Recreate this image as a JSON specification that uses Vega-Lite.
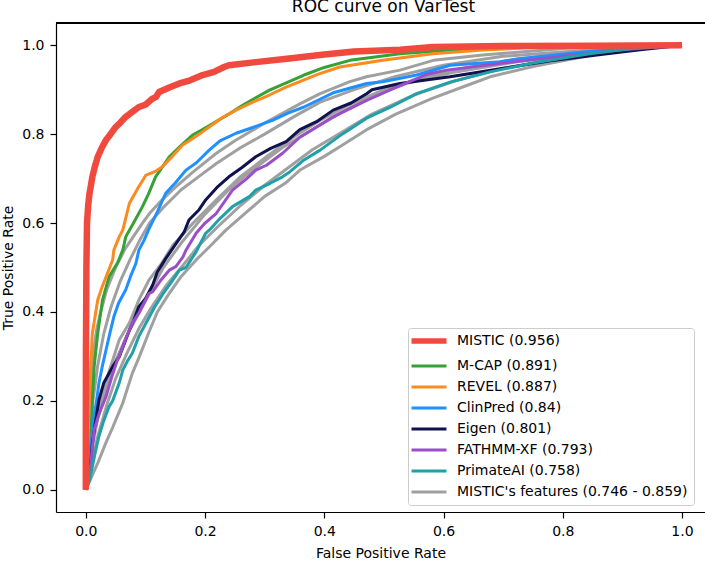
{
  "$schema": "https://vega.github.io/schema/vega-lite/v6.json",
  "autosize": {"type": "none"},
  "padding": {"left": 56, "top": 23, "right": 0, "bottom": 49},
  "width": 649,
  "height": 489,
  "background": "white",
  "title": {"text": "ROC curve on VarTest", "fontSize": 17, "fontWeight": "normal", "font": "DejaVu Sans", "color": "#000", "anchor": "middle", "frame": "group", "baseline": "alphabetic", "offset": -7, "dx": 3},
  "config": {
    "view": {"stroke": null},
    "axis": {"grid": false, "domainColor": "#000", "domainWidth": 1.2, "tickColor": "#000", "tickWidth": 1.2, "tickSize": 6, "labelFont": "DejaVu Sans", "labelFontSize": 14, "labelColor": "#000", "titleFont": "DejaVu Sans", "titleFontSize": 14, "titleFontWeight": "normal", "titleColor": "#000", "labelPadding": 6}
  },
  "data": {"values": [
    {"m":"MISTIC (0.956)","c":"mistic","x":0,"y":0},{"m":"MISTIC (0.956)","c":"mistic","x":0.0002,"y":0.3},{"m":"MISTIC (0.956)","c":"mistic","x":0.001,"y":0.5},{"m":"MISTIC (0.956)","c":"mistic","x":0.002,"y":0.6},{"m":"MISTIC (0.956)","c":"mistic","x":0.004,"y":0.64},{"m":"MISTIC (0.956)","c":"mistic","x":0.006,"y":0.665},{"m":"MISTIC (0.956)","c":"mistic","x":0.008,"y":0.68},{"m":"MISTIC (0.956)","c":"mistic","x":0.011,"y":0.704},{"m":"MISTIC (0.956)","c":"mistic","x":0.015,"y":0.726},{"m":"MISTIC (0.956)","c":"mistic","x":0.02,"y":0.749},{"m":"MISTIC (0.956)","c":"mistic","x":0.027,"y":0.77},{"m":"MISTIC (0.956)","c":"mistic","x":0.034,"y":0.787},{"m":"MISTIC (0.956)","c":"mistic","x":0.042,"y":0.801},{"m":"MISTIC (0.956)","c":"mistic","x":0.05,"y":0.816},{"m":"MISTIC (0.956)","c":"mistic","x":0.058,"y":0.826},{"m":"MISTIC (0.956)","c":"mistic","x":0.067,"y":0.839},{"m":"MISTIC (0.956)","c":"mistic","x":0.078,"y":0.85},{"m":"MISTIC (0.956)","c":"mistic","x":0.089,"y":0.861},{"m":"MISTIC (0.956)","c":"mistic","x":0.1,"y":0.866},{"m":"MISTIC (0.956)","c":"mistic","x":0.112,"y":0.88},{"m":"MISTIC (0.956)","c":"mistic","x":0.118,"y":0.884},{"m":"MISTIC (0.956)","c":"mistic","x":0.123,"y":0.895},{"m":"MISTIC (0.956)","c":"mistic","x":0.14,"y":0.905},{"m":"MISTIC (0.956)","c":"mistic","x":0.157,"y":0.914},{"m":"MISTIC (0.956)","c":"mistic","x":0.175,"y":0.921},{"m":"MISTIC (0.956)","c":"mistic","x":0.196,"y":0.933},{"m":"MISTIC (0.956)","c":"mistic","x":0.215,"y":0.94},{"m":"MISTIC (0.956)","c":"mistic","x":0.232,"y":0.951},{"m":"MISTIC (0.956)","c":"mistic","x":0.24,"y":0.955},{"m":"MISTIC (0.956)","c":"mistic","x":0.285,"y":0.962},{"m":"MISTIC (0.956)","c":"mistic","x":0.341,"y":0.97},{"m":"MISTIC (0.956)","c":"mistic","x":0.4,"y":0.979},{"m":"MISTIC (0.956)","c":"mistic","x":0.45,"y":0.986},{"m":"MISTIC (0.956)","c":"mistic","x":0.527,"y":0.99},{"m":"MISTIC (0.956)","c":"mistic","x":0.582,"y":0.996},{"m":"MISTIC (0.956)","c":"mistic","x":0.7,"y":0.998},{"m":"MISTIC (0.956)","c":"mistic","x":0.85,"y":0.999},{"m":"MISTIC (0.956)","c":"mistic","x":1,"y":1},

    {"m":"M-CAP (0.891)","c":"mcap","x":0,"y":0},{"m":"M-CAP (0.891)","c":"mcap","x":0.004,"y":0.05},{"m":"M-CAP (0.891)","c":"mcap","x":0.008,"y":0.09},{"m":"M-CAP (0.891)","c":"mcap","x":0.011,"y":0.202},{"m":"M-CAP (0.891)","c":"mcap","x":0.014,"y":0.277},{"m":"M-CAP (0.891)","c":"mcap","x":0.02,"y":0.352},{"m":"M-CAP (0.891)","c":"mcap","x":0.028,"y":0.427},{"m":"M-CAP (0.891)","c":"mcap","x":0.039,"y":0.479},{"m":"M-CAP (0.891)","c":"mcap","x":0.053,"y":0.51},{"m":"M-CAP (0.891)","c":"mcap","x":0.062,"y":0.539},{"m":"M-CAP (0.891)","c":"mcap","x":0.067,"y":0.569},{"m":"M-CAP (0.891)","c":"mcap","x":0.08,"y":0.6},{"m":"M-CAP (0.891)","c":"mcap","x":0.095,"y":0.637},{"m":"M-CAP (0.891)","c":"mcap","x":0.105,"y":0.665},{"m":"M-CAP (0.891)","c":"mcap","x":0.117,"y":0.704},{"m":"M-CAP (0.891)","c":"mcap","x":0.128,"y":0.725},{"m":"M-CAP (0.891)","c":"mcap","x":0.14,"y":0.749},{"m":"M-CAP (0.891)","c":"mcap","x":0.16,"y":0.775},{"m":"M-CAP (0.891)","c":"mcap","x":0.179,"y":0.798},{"m":"M-CAP (0.891)","c":"mcap","x":0.195,"y":0.81},{"m":"M-CAP (0.891)","c":"mcap","x":0.213,"y":0.824},{"m":"M-CAP (0.891)","c":"mcap","x":0.24,"y":0.845},{"m":"M-CAP (0.891)","c":"mcap","x":0.263,"y":0.865},{"m":"M-CAP (0.891)","c":"mcap","x":0.285,"y":0.882},{"m":"M-CAP (0.891)","c":"mcap","x":0.308,"y":0.899},{"m":"M-CAP (0.891)","c":"mcap","x":0.341,"y":0.918},{"m":"M-CAP (0.891)","c":"mcap","x":0.366,"y":0.933},{"m":"M-CAP (0.891)","c":"mcap","x":0.4,"y":0.95},{"m":"M-CAP (0.891)","c":"mcap","x":0.443,"y":0.966},{"m":"M-CAP (0.891)","c":"mcap","x":0.527,"y":0.981},{"m":"M-CAP (0.891)","c":"mcap","x":0.611,"y":0.989},{"m":"M-CAP (0.891)","c":"mcap","x":0.7,"y":0.995},{"m":"M-CAP (0.891)","c":"mcap","x":0.85,"y":0.998},{"m":"M-CAP (0.891)","c":"mcap","x":1,"y":1},

    {"m":"REVEL (0.887)","c":"revel","x":0,"y":0},{"m":"REVEL (0.887)","c":"revel","x":0.003,"y":0.1},{"m":"REVEL (0.887)","c":"revel","x":0.005,"y":0.18},{"m":"REVEL (0.887)","c":"revel","x":0.007,"y":0.24},{"m":"REVEL (0.887)","c":"revel","x":0.011,"y":0.352},{"m":"REVEL (0.887)","c":"revel","x":0.02,"y":0.427},{"m":"REVEL (0.887)","c":"revel","x":0.027,"y":0.455},{"m":"REVEL (0.887)","c":"revel","x":0.034,"y":0.479},{"m":"REVEL (0.887)","c":"revel","x":0.045,"y":0.517},{"m":"REVEL (0.887)","c":"revel","x":0.047,"y":0.539},{"m":"REVEL (0.887)","c":"revel","x":0.056,"y":0.569},{"m":"REVEL (0.887)","c":"revel","x":0.062,"y":0.584},{"m":"REVEL (0.887)","c":"revel","x":0.073,"y":0.644},{"m":"REVEL (0.887)","c":"revel","x":0.088,"y":0.68},{"m":"REVEL (0.887)","c":"revel","x":0.101,"y":0.708},{"m":"REVEL (0.887)","c":"revel","x":0.115,"y":0.715},{"m":"REVEL (0.887)","c":"revel","x":0.129,"y":0.727},{"m":"REVEL (0.887)","c":"revel","x":0.145,"y":0.75},{"m":"REVEL (0.887)","c":"revel","x":0.162,"y":0.775},{"m":"REVEL (0.887)","c":"revel","x":0.185,"y":0.795},{"m":"REVEL (0.887)","c":"revel","x":0.207,"y":0.816},{"m":"REVEL (0.887)","c":"revel","x":0.23,"y":0.838},{"m":"REVEL (0.887)","c":"revel","x":0.252,"y":0.854},{"m":"REVEL (0.887)","c":"revel","x":0.28,"y":0.872},{"m":"REVEL (0.887)","c":"revel","x":0.308,"y":0.888},{"m":"REVEL (0.887)","c":"revel","x":0.335,"y":0.905},{"m":"REVEL (0.887)","c":"revel","x":0.359,"y":0.918},{"m":"REVEL (0.887)","c":"revel","x":0.39,"y":0.935},{"m":"REVEL (0.887)","c":"revel","x":0.426,"y":0.951},{"m":"REVEL (0.887)","c":"revel","x":0.498,"y":0.966},{"m":"REVEL (0.887)","c":"revel","x":0.582,"y":0.981},{"m":"REVEL (0.887)","c":"revel","x":0.666,"y":0.989},{"m":"REVEL (0.887)","c":"revel","x":0.75,"y":0.995},{"m":"REVEL (0.887)","c":"revel","x":0.88,"y":0.999},{"m":"REVEL (0.887)","c":"revel","x":1,"y":1},

    {"m":"ClinPred (0.84)","c":"clin","x":0,"y":0},{"m":"ClinPred (0.84)","c":"clin","x":0.004,"y":0.04},{"m":"ClinPred (0.84)","c":"clin","x":0.008,"y":0.09},{"m":"ClinPred (0.84)","c":"clin","x":0.011,"y":0.13},{"m":"ClinPred (0.84)","c":"clin","x":0.014,"y":0.165},{"m":"ClinPred (0.84)","c":"clin","x":0.018,"y":0.2},{"m":"ClinPred (0.84)","c":"clin","x":0.022,"y":0.24},{"m":"ClinPred (0.84)","c":"clin","x":0.028,"y":0.28},{"m":"ClinPred (0.84)","c":"clin","x":0.034,"y":0.315},{"m":"ClinPred (0.84)","c":"clin","x":0.04,"y":0.35},{"m":"ClinPred (0.84)","c":"clin","x":0.047,"y":0.389},{"m":"ClinPred (0.84)","c":"clin","x":0.055,"y":0.42},{"m":"ClinPred (0.84)","c":"clin","x":0.067,"y":0.45},{"m":"ClinPred (0.84)","c":"clin","x":0.075,"y":0.48},{"m":"ClinPred (0.84)","c":"clin","x":0.084,"y":0.509},{"m":"ClinPred (0.84)","c":"clin","x":0.089,"y":0.539},{"m":"ClinPred (0.84)","c":"clin","x":0.098,"y":0.562},{"m":"ClinPred (0.84)","c":"clin","x":0.107,"y":0.59},{"m":"ClinPred (0.84)","c":"clin","x":0.12,"y":0.625},{"m":"ClinPred (0.84)","c":"clin","x":0.134,"y":0.667},{"m":"ClinPred (0.84)","c":"clin","x":0.15,"y":0.69},{"m":"ClinPred (0.84)","c":"clin","x":0.168,"y":0.719},{"m":"ClinPred (0.84)","c":"clin","x":0.185,"y":0.735},{"m":"ClinPred (0.84)","c":"clin","x":0.207,"y":0.764},{"m":"ClinPred (0.84)","c":"clin","x":0.225,"y":0.785},{"m":"ClinPred (0.84)","c":"clin","x":0.252,"y":0.802},{"m":"ClinPred (0.84)","c":"clin","x":0.28,"y":0.815},{"m":"ClinPred (0.84)","c":"clin","x":0.313,"y":0.831},{"m":"ClinPred (0.84)","c":"clin","x":0.34,"y":0.848},{"m":"ClinPred (0.84)","c":"clin","x":0.366,"y":0.861},{"m":"ClinPred (0.84)","c":"clin","x":0.415,"y":0.893},{"m":"ClinPred (0.84)","c":"clin","x":0.471,"y":0.914},{"m":"ClinPred (0.84)","c":"clin","x":0.498,"y":0.918},{"m":"ClinPred (0.84)","c":"clin","x":0.555,"y":0.933},{"m":"ClinPred (0.84)","c":"clin","x":0.611,"y":0.955},{"m":"ClinPred (0.84)","c":"clin","x":0.695,"y":0.963},{"m":"ClinPred (0.84)","c":"clin","x":0.723,"y":0.969},{"m":"ClinPred (0.84)","c":"clin","x":0.834,"y":0.985},{"m":"ClinPred (0.84)","c":"clin","x":0.92,"y":0.995},{"m":"ClinPred (0.84)","c":"clin","x":1,"y":1},

    {"m":"Eigen (0.801)","c":"eigen","x":0,"y":0},{"m":"Eigen (0.801)","c":"eigen","x":0.006,"y":0.03},{"m":"Eigen (0.801)","c":"eigen","x":0.009,"y":0.07},{"m":"Eigen (0.801)","c":"eigen","x":0.011,"y":0.105},{"m":"Eigen (0.801)","c":"eigen","x":0.016,"y":0.15},{"m":"Eigen (0.801)","c":"eigen","x":0.022,"y":0.202},{"m":"Eigen (0.801)","c":"eigen","x":0.03,"y":0.24},{"m":"Eigen (0.801)","c":"eigen","x":0.039,"y":0.262},{"m":"Eigen (0.801)","c":"eigen","x":0.045,"y":0.277},{"m":"Eigen (0.801)","c":"eigen","x":0.056,"y":0.299},{"m":"Eigen (0.801)","c":"eigen","x":0.065,"y":0.33},{"m":"Eigen (0.801)","c":"eigen","x":0.073,"y":0.359},{"m":"Eigen (0.801)","c":"eigen","x":0.08,"y":0.38},{"m":"Eigen (0.801)","c":"eigen","x":0.089,"y":0.412},{"m":"Eigen (0.801)","c":"eigen","x":0.1,"y":0.43},{"m":"Eigen (0.801)","c":"eigen","x":0.112,"y":0.46},{"m":"Eigen (0.801)","c":"eigen","x":0.12,"y":0.49},{"m":"Eigen (0.801)","c":"eigen","x":0.134,"y":0.52},{"m":"Eigen (0.801)","c":"eigen","x":0.151,"y":0.553},{"m":"Eigen (0.801)","c":"eigen","x":0.165,"y":0.58},{"m":"Eigen (0.801)","c":"eigen","x":0.173,"y":0.607},{"m":"Eigen (0.801)","c":"eigen","x":0.19,"y":0.63},{"m":"Eigen (0.801)","c":"eigen","x":0.201,"y":0.652},{"m":"Eigen (0.801)","c":"eigen","x":0.22,"y":0.68},{"m":"Eigen (0.801)","c":"eigen","x":0.24,"y":0.704},{"m":"Eigen (0.801)","c":"eigen","x":0.262,"y":0.725},{"m":"Eigen (0.801)","c":"eigen","x":0.285,"y":0.749},{"m":"Eigen (0.801)","c":"eigen","x":0.31,"y":0.768},{"m":"Eigen (0.801)","c":"eigen","x":0.336,"y":0.783},{"m":"Eigen (0.801)","c":"eigen","x":0.359,"y":0.81},{"m":"Eigen (0.801)","c":"eigen","x":0.387,"y":0.828},{"m":"Eigen (0.801)","c":"eigen","x":0.415,"y":0.854},{"m":"Eigen (0.801)","c":"eigen","x":0.445,"y":0.87},{"m":"Eigen (0.801)","c":"eigen","x":0.471,"y":0.891},{"m":"Eigen (0.801)","c":"eigen","x":0.48,"y":0.9},{"m":"Eigen (0.801)","c":"eigen","x":0.527,"y":0.914},{"m":"Eigen (0.801)","c":"eigen","x":0.611,"y":0.929},{"m":"Eigen (0.801)","c":"eigen","x":0.695,"y":0.947},{"m":"Eigen (0.801)","c":"eigen","x":0.78,"y":0.965},{"m":"Eigen (0.801)","c":"eigen","x":0.857,"y":0.978},{"m":"Eigen (0.801)","c":"eigen","x":0.93,"y":0.99},{"m":"Eigen (0.801)","c":"eigen","x":1,"y":1},

    {"m":"FATHMM-XF (0.793)","c":"fathmm","x":0,"y":0},{"m":"FATHMM-XF (0.793)","c":"fathmm","x":0.006,"y":0.03},{"m":"FATHMM-XF (0.793)","c":"fathmm","x":0.01,"y":0.08},{"m":"FATHMM-XF (0.793)","c":"fathmm","x":0.014,"y":0.135},{"m":"FATHMM-XF (0.793)","c":"fathmm","x":0.022,"y":0.17},{"m":"FATHMM-XF (0.793)","c":"fathmm","x":0.034,"y":0.21},{"m":"FATHMM-XF (0.793)","c":"fathmm","x":0.045,"y":0.26},{"m":"FATHMM-XF (0.793)","c":"fathmm","x":0.053,"y":0.292},{"m":"FATHMM-XF (0.793)","c":"fathmm","x":0.056,"y":0.3},{"m":"FATHMM-XF (0.793)","c":"fathmm","x":0.067,"y":0.34},{"m":"FATHMM-XF (0.793)","c":"fathmm","x":0.078,"y":0.375},{"m":"FATHMM-XF (0.793)","c":"fathmm","x":0.09,"y":0.4},{"m":"FATHMM-XF (0.793)","c":"fathmm","x":0.106,"y":0.442},{"m":"FATHMM-XF (0.793)","c":"fathmm","x":0.112,"y":0.445},{"m":"FATHMM-XF (0.793)","c":"fathmm","x":0.125,"y":0.47},{"m":"FATHMM-XF (0.793)","c":"fathmm","x":0.14,"y":0.494},{"m":"FATHMM-XF (0.793)","c":"fathmm","x":0.151,"y":0.502},{"m":"FATHMM-XF (0.793)","c":"fathmm","x":0.163,"y":0.524},{"m":"FATHMM-XF (0.793)","c":"fathmm","x":0.168,"y":0.539},{"m":"FATHMM-XF (0.793)","c":"fathmm","x":0.185,"y":0.577},{"m":"FATHMM-XF (0.793)","c":"fathmm","x":0.2,"y":0.6},{"m":"FATHMM-XF (0.793)","c":"fathmm","x":0.219,"y":0.622},{"m":"FATHMM-XF (0.793)","c":"fathmm","x":0.246,"y":0.674},{"m":"FATHMM-XF (0.793)","c":"fathmm","x":0.27,"y":0.7},{"m":"FATHMM-XF (0.793)","c":"fathmm","x":0.285,"y":0.719},{"m":"FATHMM-XF (0.793)","c":"fathmm","x":0.303,"y":0.73},{"m":"FATHMM-XF (0.793)","c":"fathmm","x":0.33,"y":0.757},{"m":"FATHMM-XF (0.793)","c":"fathmm","x":0.359,"y":0.793},{"m":"FATHMM-XF (0.793)","c":"fathmm","x":0.387,"y":0.816},{"m":"FATHMM-XF (0.793)","c":"fathmm","x":0.415,"y":0.839},{"m":"FATHMM-XF (0.793)","c":"fathmm","x":0.471,"y":0.876},{"m":"FATHMM-XF (0.793)","c":"fathmm","x":0.52,"y":0.905},{"m":"FATHMM-XF (0.793)","c":"fathmm","x":0.571,"y":0.934},{"m":"FATHMM-XF (0.793)","c":"fathmm","x":0.605,"y":0.944},{"m":"FATHMM-XF (0.793)","c":"fathmm","x":0.7,"y":0.96},{"m":"FATHMM-XF (0.793)","c":"fathmm","x":0.8,"y":0.975},{"m":"FATHMM-XF (0.793)","c":"fathmm","x":0.9,"y":0.99},{"m":"FATHMM-XF (0.793)","c":"fathmm","x":1,"y":1},

    {"m":"PrimateAI (0.758)","c":"primate","x":0,"y":0},{"m":"PrimateAI (0.758)","c":"primate","x":0.006,"y":0.02},{"m":"PrimateAI (0.758)","c":"primate","x":0.011,"y":0.052},{"m":"PrimateAI (0.758)","c":"primate","x":0.016,"y":0.085},{"m":"PrimateAI (0.758)","c":"primate","x":0.022,"y":0.12},{"m":"PrimateAI (0.758)","c":"primate","x":0.03,"y":0.155},{"m":"PrimateAI (0.758)","c":"primate","x":0.039,"y":0.187},{"m":"PrimateAI (0.758)","c":"primate","x":0.045,"y":0.2},{"m":"PrimateAI (0.758)","c":"primate","x":0.056,"y":0.24},{"m":"PrimateAI (0.758)","c":"primate","x":0.062,"y":0.269},{"m":"PrimateAI (0.758)","c":"primate","x":0.07,"y":0.29},{"m":"PrimateAI (0.758)","c":"primate","x":0.078,"y":0.307},{"m":"PrimateAI (0.758)","c":"primate","x":0.089,"y":0.345},{"m":"PrimateAI (0.758)","c":"primate","x":0.101,"y":0.375},{"m":"PrimateAI (0.758)","c":"primate","x":0.115,"y":0.41},{"m":"PrimateAI (0.758)","c":"primate","x":0.129,"y":0.44},{"m":"PrimateAI (0.758)","c":"primate","x":0.145,"y":0.47},{"m":"PrimateAI (0.758)","c":"primate","x":0.157,"y":0.494},{"m":"PrimateAI (0.758)","c":"primate","x":0.168,"y":0.5},{"m":"PrimateAI (0.758)","c":"primate","x":0.185,"y":0.535},{"m":"PrimateAI (0.758)","c":"primate","x":0.201,"y":0.577},{"m":"PrimateAI (0.758)","c":"primate","x":0.207,"y":0.584},{"m":"PrimateAI (0.758)","c":"primate","x":0.225,"y":0.61},{"m":"PrimateAI (0.758)","c":"primate","x":0.246,"y":0.637},{"m":"PrimateAI (0.758)","c":"primate","x":0.275,"y":0.66},{"m":"PrimateAI (0.758)","c":"primate","x":0.285,"y":0.674},{"m":"PrimateAI (0.758)","c":"primate","x":0.31,"y":0.69},{"m":"PrimateAI (0.758)","c":"primate","x":0.33,"y":0.704},{"m":"PrimateAI (0.758)","c":"primate","x":0.342,"y":0.715},{"m":"PrimateAI (0.758)","c":"primate","x":0.366,"y":0.742},{"m":"PrimateAI (0.758)","c":"primate","x":0.393,"y":0.764},{"m":"PrimateAI (0.758)","c":"primate","x":0.43,"y":0.8},{"m":"PrimateAI (0.758)","c":"primate","x":0.471,"y":0.836},{"m":"PrimateAI (0.758)","c":"primate","x":0.51,"y":0.86},{"m":"PrimateAI (0.758)","c":"primate","x":0.555,"y":0.891},{"m":"PrimateAI (0.758)","c":"primate","x":0.611,"y":0.917},{"m":"PrimateAI (0.758)","c":"primate","x":0.678,"y":0.94},{"m":"PrimateAI (0.758)","c":"primate","x":0.75,"y":0.96},{"m":"PrimateAI (0.758)","c":"primate","x":0.85,"y":0.982},{"m":"PrimateAI (0.758)","c":"primate","x":0.93,"y":0.995},{"m":"PrimateAI (0.758)","c":"primate","x":1,"y":1},

    {"m":"MISTIC's features (0.746 - 0.859)","c":"g1","x":0,"y":0},{"m":"MISTIC's features (0.746 - 0.859)","c":"g1","x":0.004,"y":0.1},{"m":"MISTIC's features (0.746 - 0.859)","c":"g1","x":0.008,"y":0.2},{"m":"MISTIC's features (0.746 - 0.859)","c":"g1","x":0.012,"y":0.3},{"m":"MISTIC's features (0.746 - 0.859)","c":"g1","x":0.018,"y":0.36},{"m":"MISTIC's features (0.746 - 0.859)","c":"g1","x":0.025,"y":0.4},{"m":"MISTIC's features (0.746 - 0.859)","c":"g1","x":0.035,"y":0.45},{"m":"MISTIC's features (0.746 - 0.859)","c":"g1","x":0.05,"y":0.5},{"m":"MISTIC's features (0.746 - 0.859)","c":"g1","x":0.065,"y":0.54},{"m":"MISTIC's features (0.746 - 0.859)","c":"g1","x":0.08,"y":0.57},{"m":"MISTIC's features (0.746 - 0.859)","c":"g1","x":0.095,"y":0.6},{"m":"MISTIC's features (0.746 - 0.859)","c":"g1","x":0.107,"y":0.622},{"m":"MISTIC's features (0.746 - 0.859)","c":"g1","x":0.13,"y":0.655},{"m":"MISTIC's features (0.746 - 0.859)","c":"g1","x":0.15,"y":0.68},{"m":"MISTIC's features (0.746 - 0.859)","c":"g1","x":0.18,"y":0.715},{"m":"MISTIC's features (0.746 - 0.859)","c":"g1","x":0.219,"y":0.757},{"m":"MISTIC's features (0.746 - 0.859)","c":"g1","x":0.25,"y":0.785},{"m":"MISTIC's features (0.746 - 0.859)","c":"g1","x":0.3,"y":0.825},{"m":"MISTIC's features (0.746 - 0.859)","c":"g1","x":0.359,"y":0.868},{"m":"MISTIC's features (0.746 - 0.859)","c":"g1","x":0.393,"y":0.891},{"m":"MISTIC's features (0.746 - 0.859)","c":"g1","x":0.443,"y":0.918},{"m":"MISTIC's features (0.746 - 0.859)","c":"g1","x":0.471,"y":0.929},{"m":"MISTIC's features (0.746 - 0.859)","c":"g1","x":0.527,"y":0.944},{"m":"MISTIC's features (0.746 - 0.859)","c":"g1","x":0.583,"y":0.966},{"m":"MISTIC's features (0.746 - 0.859)","c":"g1","x":0.666,"y":0.978},{"m":"MISTIC's features (0.746 - 0.859)","c":"g1","x":0.807,"y":0.993},{"m":"MISTIC's features (0.746 - 0.859)","c":"g1","x":1,"y":1},

    {"m":"MISTIC's features (0.746 - 0.859)","c":"g2","x":0,"y":0},{"m":"MISTIC's features (0.746 - 0.859)","c":"g2","x":0.006,"y":0.1},{"m":"MISTIC's features (0.746 - 0.859)","c":"g2","x":0.012,"y":0.2},{"m":"MISTIC's features (0.746 - 0.859)","c":"g2","x":0.02,"y":0.28},{"m":"MISTIC's features (0.746 - 0.859)","c":"g2","x":0.03,"y":0.35},{"m":"MISTIC's features (0.746 - 0.859)","c":"g2","x":0.042,"y":0.41},{"m":"MISTIC's features (0.746 - 0.859)","c":"g2","x":0.058,"y":0.47},{"m":"MISTIC's features (0.746 - 0.859)","c":"g2","x":0.075,"y":0.52},{"m":"MISTIC's features (0.746 - 0.859)","c":"g2","x":0.09,"y":0.56},{"m":"MISTIC's features (0.746 - 0.859)","c":"g2","x":0.107,"y":0.6},{"m":"MISTIC's features (0.746 - 0.859)","c":"g2","x":0.13,"y":0.635},{"m":"MISTIC's features (0.746 - 0.859)","c":"g2","x":0.16,"y":0.675},{"m":"MISTIC's features (0.746 - 0.859)","c":"g2","x":0.19,"y":0.705},{"m":"MISTIC's features (0.746 - 0.859)","c":"g2","x":0.219,"y":0.734},{"m":"MISTIC's features (0.746 - 0.859)","c":"g2","x":0.26,"y":0.77},{"m":"MISTIC's features (0.746 - 0.859)","c":"g2","x":0.3,"y":0.8},{"m":"MISTIC's features (0.746 - 0.859)","c":"g2","x":0.35,"y":0.84},{"m":"MISTIC's features (0.746 - 0.859)","c":"g2","x":0.393,"y":0.872},{"m":"MISTIC's features (0.746 - 0.859)","c":"g2","x":0.45,"y":0.9},{"m":"MISTIC's features (0.746 - 0.859)","c":"g2","x":0.52,"y":0.93},{"m":"MISTIC's features (0.746 - 0.859)","c":"g2","x":0.6,"y":0.955},{"m":"MISTIC's features (0.746 - 0.859)","c":"g2","x":0.7,"y":0.975},{"m":"MISTIC's features (0.746 - 0.859)","c":"g2","x":0.85,"y":0.99},{"m":"MISTIC's features (0.746 - 0.859)","c":"g2","x":1,"y":1},

    {"m":"MISTIC's features (0.746 - 0.859)","c":"g3","x":0,"y":0},{"m":"MISTIC's features (0.746 - 0.859)","c":"g3","x":0.008,"y":0.08},{"m":"MISTIC's features (0.746 - 0.859)","c":"g3","x":0.015,"y":0.14},{"m":"MISTIC's features (0.746 - 0.859)","c":"g3","x":0.025,"y":0.2},{"m":"MISTIC's features (0.746 - 0.859)","c":"g3","x":0.04,"y":0.27},{"m":"MISTIC's features (0.746 - 0.859)","c":"g3","x":0.056,"y":0.337},{"m":"MISTIC's features (0.746 - 0.859)","c":"g3","x":0.073,"y":0.375},{"m":"MISTIC's features (0.746 - 0.859)","c":"g3","x":0.09,"y":0.43},{"m":"MISTIC's features (0.746 - 0.859)","c":"g3","x":0.106,"y":0.472},{"m":"MISTIC's features (0.746 - 0.859)","c":"g3","x":0.125,"y":0.505},{"m":"MISTIC's features (0.746 - 0.859)","c":"g3","x":0.146,"y":0.55},{"m":"MISTIC's features (0.746 - 0.859)","c":"g3","x":0.18,"y":0.6},{"m":"MISTIC's features (0.746 - 0.859)","c":"g3","x":0.219,"y":0.652},{"m":"MISTIC's features (0.746 - 0.859)","c":"g3","x":0.26,"y":0.705},{"m":"MISTIC's features (0.746 - 0.859)","c":"g3","x":0.303,"y":0.749},{"m":"MISTIC's features (0.746 - 0.859)","c":"g3","x":0.35,"y":0.795},{"m":"MISTIC's features (0.746 - 0.859)","c":"g3","x":0.393,"y":0.831},{"m":"MISTIC's features (0.746 - 0.859)","c":"g3","x":0.44,"y":0.865},{"m":"MISTIC's features (0.746 - 0.859)","c":"g3","x":0.5,"y":0.9},{"m":"MISTIC's features (0.746 - 0.859)","c":"g3","x":0.56,"y":0.925},{"m":"MISTIC's features (0.746 - 0.859)","c":"g3","x":0.62,"y":0.945},{"m":"MISTIC's features (0.746 - 0.859)","c":"g3","x":0.72,"y":0.968},{"m":"MISTIC's features (0.746 - 0.859)","c":"g3","x":0.85,"y":0.988},{"m":"MISTIC's features (0.746 - 0.859)","c":"g3","x":1,"y":1},

    {"m":"MISTIC's features (0.746 - 0.859)","c":"g4","x":0,"y":0},{"m":"MISTIC's features (0.746 - 0.859)","c":"g4","x":0.01,"y":0.09},{"m":"MISTIC's features (0.746 - 0.859)","c":"g4","x":0.02,"y":0.16},{"m":"MISTIC's features (0.746 - 0.859)","c":"g4","x":0.035,"y":0.23},{"m":"MISTIC's features (0.746 - 0.859)","c":"g4","x":0.05,"y":0.29},{"m":"MISTIC's features (0.746 - 0.859)","c":"g4","x":0.07,"y":0.35},{"m":"MISTIC's features (0.746 - 0.859)","c":"g4","x":0.09,"y":0.4},{"m":"MISTIC's features (0.746 - 0.859)","c":"g4","x":0.11,"y":0.45},{"m":"MISTIC's features (0.746 - 0.859)","c":"g4","x":0.13,"y":0.5},{"m":"MISTIC's features (0.746 - 0.859)","c":"g4","x":0.16,"y":0.555},{"m":"MISTIC's features (0.746 - 0.859)","c":"g4","x":0.2,"y":0.62},{"m":"MISTIC's features (0.746 - 0.859)","c":"g4","x":0.24,"y":0.675},{"m":"MISTIC's features (0.746 - 0.859)","c":"g4","x":0.28,"y":0.72},{"m":"MISTIC's features (0.746 - 0.859)","c":"g4","x":0.33,"y":0.77},{"m":"MISTIC's features (0.746 - 0.859)","c":"g4","x":0.38,"y":0.81},{"m":"MISTIC's features (0.746 - 0.859)","c":"g4","x":0.43,"y":0.85},{"m":"MISTIC's features (0.746 - 0.859)","c":"g4","x":0.48,"y":0.885},{"m":"MISTIC's features (0.746 - 0.859)","c":"g4","x":0.54,"y":0.915},{"m":"MISTIC's features (0.746 - 0.859)","c":"g4","x":0.62,"y":0.94},{"m":"MISTIC's features (0.746 - 0.859)","c":"g4","x":0.72,"y":0.962},{"m":"MISTIC's features (0.746 - 0.859)","c":"g4","x":0.85,"y":0.985},{"m":"MISTIC's features (0.746 - 0.859)","c":"g4","x":1,"y":1},

    {"m":"MISTIC's features (0.746 - 0.859)","c":"g5","x":0,"y":0},{"m":"MISTIC's features (0.746 - 0.859)","c":"g5","x":0.01,"y":0.06},{"m":"MISTIC's features (0.746 - 0.859)","c":"g5","x":0.02,"y":0.12},{"m":"MISTIC's features (0.746 - 0.859)","c":"g5","x":0.035,"y":0.19},{"m":"MISTIC's features (0.746 - 0.859)","c":"g5","x":0.05,"y":0.25},{"m":"MISTIC's features (0.746 - 0.859)","c":"g5","x":0.07,"y":0.31},{"m":"MISTIC's features (0.746 - 0.859)","c":"g5","x":0.09,"y":0.365},{"m":"MISTIC's features (0.746 - 0.859)","c":"g5","x":0.11,"y":0.41},{"m":"MISTIC's features (0.746 - 0.859)","c":"g5","x":0.135,"y":0.46},{"m":"MISTIC's features (0.746 - 0.859)","c":"g5","x":0.16,"y":0.5},{"m":"MISTIC's features (0.746 - 0.859)","c":"g5","x":0.19,"y":0.55},{"m":"MISTIC's features (0.746 - 0.859)","c":"g5","x":0.22,"y":0.59},{"m":"MISTIC's features (0.746 - 0.859)","c":"g5","x":0.26,"y":0.64},{"m":"MISTIC's features (0.746 - 0.859)","c":"g5","x":0.3,"y":0.685},{"m":"MISTIC's features (0.746 - 0.859)","c":"g5","x":0.34,"y":0.725},{"m":"MISTIC's features (0.746 - 0.859)","c":"g5","x":0.38,"y":0.765},{"m":"MISTIC's features (0.746 - 0.859)","c":"g5","x":0.43,"y":0.805},{"m":"MISTIC's features (0.746 - 0.859)","c":"g5","x":0.48,"y":0.845},{"m":"MISTIC's features (0.746 - 0.859)","c":"g5","x":0.55,"y":0.888},{"m":"MISTIC's features (0.746 - 0.859)","c":"g5","x":0.62,"y":0.92},{"m":"MISTIC's features (0.746 - 0.859)","c":"g5","x":0.7,"y":0.948},{"m":"MISTIC's features (0.746 - 0.859)","c":"g5","x":0.8,"y":0.972},{"m":"MISTIC's features (0.746 - 0.859)","c":"g5","x":0.9,"y":0.99},{"m":"MISTIC's features (0.746 - 0.859)","c":"g5","x":1,"y":1},

    {"m":"MISTIC's features (0.746 - 0.859)","c":"g6","x":0,"y":0},{"m":"MISTIC's features (0.746 - 0.859)","c":"g6","x":0.01,"y":0.03},{"m":"MISTIC's features (0.746 - 0.859)","c":"g6","x":0.02,"y":0.06},{"m":"MISTIC's features (0.746 - 0.859)","c":"g6","x":0.035,"y":0.11},{"m":"MISTIC's features (0.746 - 0.859)","c":"g6","x":0.045,"y":0.14},{"m":"MISTIC's features (0.746 - 0.859)","c":"g6","x":0.062,"y":0.195},{"m":"MISTIC's features (0.746 - 0.859)","c":"g6","x":0.078,"y":0.262},{"m":"MISTIC's features (0.746 - 0.859)","c":"g6","x":0.09,"y":0.3},{"m":"MISTIC's features (0.746 - 0.859)","c":"g6","x":0.106,"y":0.355},{"m":"MISTIC's features (0.746 - 0.859)","c":"g6","x":0.12,"y":0.4},{"m":"MISTIC's features (0.746 - 0.859)","c":"g6","x":0.14,"y":0.442},{"m":"MISTIC's features (0.746 - 0.859)","c":"g6","x":0.16,"y":0.48},{"m":"MISTIC's features (0.746 - 0.859)","c":"g6","x":0.185,"y":0.517},{"m":"MISTIC's features (0.746 - 0.859)","c":"g6","x":0.21,"y":0.55},{"m":"MISTIC's features (0.746 - 0.859)","c":"g6","x":0.235,"y":0.584},{"m":"MISTIC's features (0.746 - 0.859)","c":"g6","x":0.27,"y":0.625},{"m":"MISTIC's features (0.746 - 0.859)","c":"g6","x":0.3,"y":0.66},{"m":"MISTIC's features (0.746 - 0.859)","c":"g6","x":0.335,"y":0.69},{"m":"MISTIC's features (0.746 - 0.859)","c":"g6","x":0.36,"y":0.72},{"m":"MISTIC's features (0.746 - 0.859)","c":"g6","x":0.4,"y":0.75},{"m":"MISTIC's features (0.746 - 0.859)","c":"g6","x":0.43,"y":0.775},{"m":"MISTIC's features (0.746 - 0.859)","c":"g6","x":0.471,"y":0.81},{"m":"MISTIC's features (0.746 - 0.859)","c":"g6","x":0.52,"y":0.845},{"m":"MISTIC's features (0.746 - 0.859)","c":"g6","x":0.58,"y":0.88},{"m":"MISTIC's features (0.746 - 0.859)","c":"g6","x":0.64,"y":0.91},{"m":"MISTIC's features (0.746 - 0.859)","c":"g6","x":0.678,"y":0.929},{"m":"MISTIC's features (0.746 - 0.859)","c":"g6","x":0.75,"y":0.952},{"m":"MISTIC's features (0.746 - 0.859)","c":"g6","x":0.85,"y":0.978},{"m":"MISTIC's features (0.746 - 0.859)","c":"g6","x":0.93,"y":0.993},{"m":"MISTIC's features (0.746 - 0.859)","c":"g6","x":1,"y":1}
  ]},
  "encoding": {
    "x": {"field": "x", "type": "quantitative", "scale": {"domain": [-0.05, 1.0386], "nice": false, "zero": false}, "axis": {"title": "False Positive Rate", "values": [0, 0.2, 0.4, 0.6, 0.8, 1.0], "format": ".1f", "titlePadding": 8}},
    "y": {"field": "y", "type": "quantitative", "scale": {"domain": [-0.05, 1.05], "nice": false, "zero": false}, "axis": {"title": "True Positive Rate", "values": [0, 0.2, 0.4, 0.6, 0.8, 1.0], "format": ".1f", "titlePadding": 6}},
    "color": {"field": "m", "type": "nominal",
      "scale": {"domain": ["MISTIC (0.956)", "M-CAP (0.891)", "REVEL (0.887)", "ClinPred (0.84)", "Eigen (0.801)", "FATHMM-XF (0.793)", "PrimateAI (0.758)", "MISTIC's features (0.746 - 0.859)"],
                "range": ["#f04a3e", "#35a235", "#fb8b1e", "#1e90ff", "#10124f", "#9a4fc8", "#20a0a8", "#a0a0a0"]},
      "legend": {"orient": "none", "legendX": 352, "legendY": 305, "title": null, "symbolType": "M-3,0H3", "symbolSize": 136, "symbolStrokeWidth": 3, "labelFontSize": 14, "labelFont": "DejaVu Sans", "labelColor": "#000", "labelLimit": 400, "fillColor": "#fff", "strokeColor": "#cccccc", "padding": 6, "symbolOffset": 8, "cornerRadius": 3, "rowPadding": 7, "labelOffset": 21,
        "encode": {"symbols": {"update": {"strokeWidth": {"signal": "datum.value === 'MISTIC (0.956)' ? 5.5 : 3"}}}}}},
    "detail": {"field": "c"}
  },
  "layer": [
    {
      "transform": [{"filter": "datum.m === \"MISTIC's features (0.746 - 0.859)\""}],
      "mark": {"type": "line", "strokeWidth": 3, "strokeJoin": "round"}
    },
    {
      "transform": [{"filter": "datum.m !== \"MISTIC's features (0.746 - 0.859)\" && datum.m !== 'MISTIC (0.956)'"}],
      "mark": {"type": "line", "strokeWidth": 3, "strokeJoin": "round"}
    },
    {
      "transform": [{"filter": "datum.m === 'MISTIC (0.956)'"}],
      "mark": {"type": "line", "strokeWidth": 6.5, "strokeJoin": "round"}
    },
    {
      "mark": {"type": "rule", "color": "#000", "strokeWidth": 1.2},
      "encoding": {"y": {"datum": 1.05}, "x": {"datum": -0.05}, "x2": {"datum": 1.0386}, "color": {"value": "#000"}, "detail": {"value": null}}
    }
  ]
}
